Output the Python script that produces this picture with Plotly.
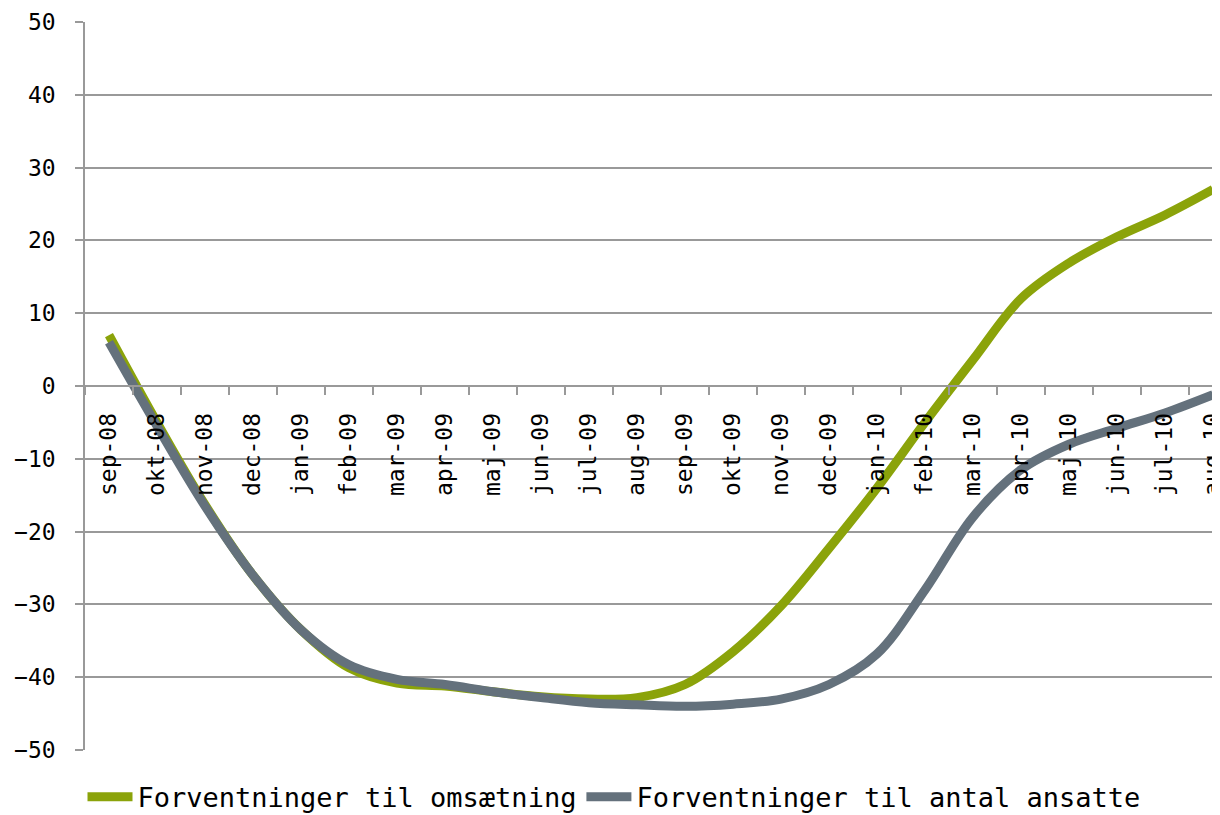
import plotly.graph_objects as go

months = ["sep-08", "okt-08", "nov-08", "dec-08", "jan-09", "feb-09", "mar-09", "apr-09",
          "maj-09", "jun-09", "jul-09", "aug-09", "sep-09", "okt-09", "nov-09", "dec-09",
          "jan-10", "feb-10", "mar-10", "apr-10", "maj-10", "jun-10", "jul-10", "aug-10"]

omsaetning = [7.0, -5.0, -16.3, -26.0, -33.5, -38.7, -40.8, -41.2, -42.0, -42.7, -43.0, -42.8,
              -41.0, -36.5, -30.2, -22.3, -14.0, -5.0, 3.6, 12.0, 16.9, 20.5, 23.5, 27.0]

ansatte = [6.0, -5.5, -16.5, -26.0, -33.5, -38.3, -40.3, -41.0, -42.0, -42.8, -43.5, -43.8,
           -44.0, -43.7, -43.0, -41.0, -36.8, -28.0, -18.0, -11.5, -8.0, -5.8, -3.7, -1.2]

series_names = ["Forventninger til omsætning", "Forventninger til antal ansatte"]
colors = ["#8ba30a", "#64717c"]

font_family = "DejaVu Sans Mono"

fig = go.Figure()
for name, vals, col in zip(series_names, [omsaetning, ansatte], colors):
    fig.add_trace(go.Scatter(
        x=months, y=vals, name=name, mode="lines",
        line=dict(color=col, width=9, shape="spline", smoothing=1.0),
    ))

fig.update_layout(
    width=1212, height=807,
    margin=dict(l=77, r=0, t=14, b=65, autoexpand=False),
    plot_bgcolor="white", paper_bgcolor="white",
    font=dict(family=font_family, size=23, color="black"),
    showlegend=True,
    legend=dict(orientation="h", xref="container", yref="container",
                x=0.5, xanchor="center", y=0.022, yanchor="middle",
                font=dict(family=font_family, size=27, color="black"),
                itemwidth=45, traceorder="normal"),
    xaxis=dict(
        type="category", range=[-0.5, 23.146],
        anchor="free", position=0.5,
        showline=True, linecolor="#999999", linewidth=1.5,
        ticks="outside", tickson="boundaries", ticklen=8, tickcolor="#999999", tickwidth=1.5,
        tickangle=-90, showgrid=False, zeroline=False,
        tickfont=dict(family=font_family, size=23, color="black"),
        ticklabelstandoff=17,
    ),
    yaxis=dict(
        range=[-50, 50], dtick=10, tick0=0,
        showline=True, linecolor="#999999", linewidth=1.5,
        ticks="outside", ticklen=8, tickcolor="#999999", tickwidth=1.5,
        showgrid=True, gridcolor="#999999", gridwidth=1.5, zeroline=False,
        tickfont=dict(family=font_family, size=23, color="black"),
        ticklabelstandoff=15,
    ),
)

fig.write_html("out.html")
